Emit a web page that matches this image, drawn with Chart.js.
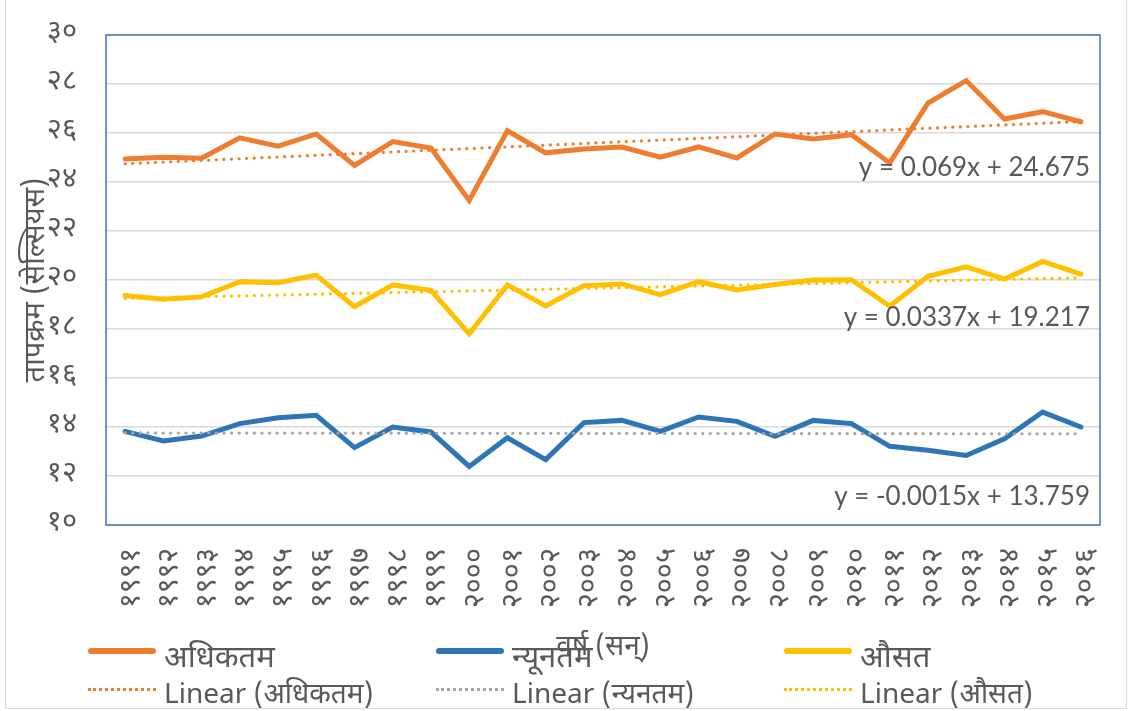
<!DOCTYPE html>
<html><head><meta charset="utf-8">
<script src="https://cdn.jsdelivr.net/npm/chart.js@4/dist/chart.umd.min.js"></script>
<style>
html,body{margin:0;padding:0;background:#fff;}
#wrap{position:relative;width:1131px;height:711px;overflow:hidden;background:#fff;}
#frame{position:absolute;left:5px;top:-2px;width:1122px;height:711px;border:1.5px solid #D9D9D9;box-sizing:border-box;pointer-events:none;}
#c{position:absolute;left:0;top:0;}
.lg{position:absolute;color:#595959;white-space:nowrap;}
.sw{position:absolute;}
</style></head>
<body><div id="wrap"><canvas id="c" width="1131" height="711"></canvas><div id="legend"></div><div id="frame"></div></div>
<script>
const categories = ['१९९१','१९९२','१९९३','१९९४','१९९५','१९९६','१९९७','१९९८','१९९९','२०००','२००१','२००२','२००३','२००४','२००५','२००६','२००७','२००८','२००९','२०१०','२०११','२०१२','२०१३','२०१४','२०१५','२०१६'];
const maxTemp = [24.94,25.01,24.97,25.80,25.46,25.96,24.68,25.65,25.39,23.25,26.09,25.19,25.35,25.43,25.01,25.43,24.98,25.96,25.76,25.93,24.78,27.22,28.14,26.57,26.87,26.46];
const minTemp = [13.82,13.43,13.63,14.14,14.38,14.48,13.16,14.00,13.80,12.39,13.56,12.67,14.18,14.27,13.82,14.41,14.23,13.62,14.27,14.14,13.21,13.05,12.84,13.52,14.61,14.00];
const avgTemp = [19.37,19.21,19.31,19.93,19.89,20.20,18.91,19.80,19.58,17.80,19.80,18.94,19.77,19.84,19.40,19.93,19.59,19.82,20.00,20.01,18.93,20.15,20.54,20.04,20.76,20.24];
const trendSlopes = [0.069, -0.0015, 0.0337];
const trendIntercepts = [24.675, 13.759, 19.217];
const trendLabels = ['y = 0.069x + 24.675','y = -0.0015x + 13.759','y = 0.0337x + 19.217'];
const yTickLabels = ['१०','१२','१४','१६','१८','२०','२२','२४','२६','२८','३०'];
const seriesNames = ['अधिकतम','न्यूनतम','औसत'];
const trendNames = ['Linear (अधिकतम)','Linear (न्यनतम)','Linear (औसत)'];
const xTitle = 'वर्ष (सन्)';
const yTitle = 'तापक्रम (सेल्सियस)';

const colors = ['#ED7D31','#2E75B6','#FFC000'];
const trendColors = ['#ED7D31','#A5A5A5','#FFC000'];
const FAM = "'Noto Sans Devanagari','Noto Sans',sans-serif";
const LFAM = "Lato,'Noto Sans Devanagari','Noto Sans',sans-serif";

const seriesData = [maxTemp, minTemp, avgTemp];
const trendData = trendSlopes.map((s, k) => categories.map((_, i) => trendIntercepts[k] + s * (i + 1)));

const datasets = [];
seriesData.forEach((d, k) => datasets.push({label: seriesNames[k], data: d, borderColor: colors[k], backgroundColor: colors[k], borderWidth: 5, pointRadius: 0, borderCapStyle:'round', borderJoinStyle:'miter', order: 2}));
trendData.forEach((d, k) => datasets.push({label: trendNames[k], data: d, borderColor: trendColors[k], backgroundColor: trendColors[k], borderWidth: 3.2, borderDash:[0.1, 7.5], borderCapStyle:'round', pointRadius: 0, order: 1}));

const eqPlugin = {
  id: 'eq',
  beforeDatasetsDraw(chart) {
    const {ctx, chartArea: a} = chart;
    ctx.save();
    ctx.strokeStyle = '#4472C4'; ctx.lineWidth = 1.5;
    ctx.strokeRect(a.left, a.top, a.right - a.left, a.bottom - a.top);
    ctx.restore();
  },
  afterDatasetsDraw(chart) {
    const {ctx, chartArea: a} = chart;
    const y = chart.scales.y;
    ctx.save();
    ctx.font = '26px ' + LFAM;
    ctx.fillStyle = '#595959';
    ctx.textAlign = 'right'; ctx.textBaseline = 'middle';
    const ys = [24.57, 11.14, 18.45];
    trendLabels.forEach((t, k) => ctx.fillText(t, a.right - 10, y.getPixelForValue(ys[k])));
    ctx.restore();
  }
};

const chart = new Chart(document.getElementById('c'), {
  type: 'line',
  data: {labels: categories, datasets},
  plugins: [eqPlugin],
  options: {
    responsive: false, animation: false,
    layout: {padding: {left: 0, right: 31, top: 35, bottom: 0}},
    plugins: {legend: {display: false}, tooltip: {enabled: false}},
    elements: {line: {tension: 0}},
    scales: {
      x: {
        offset: true,
        grid: {display: false, drawTicks: false, offset: true}, border: {display: false},
        ticks: {minRotation: 90, maxRotation: 90, autoSkip: false, padding: 23, labelOffset: 8, color: '#595959', font: {family: FAM, size: 29}},
        title: {display: true, text: xTitle, color: '#595959', font: {family: FAM, size: 28}, padding: {top: 0, bottom: 44}},
        afterFit(s) { s.height = 186; s.paddingLeft = 0; s.paddingRight = 0; }
      },
      y: {
        min: 10, max: 30,
        ticks: {stepSize: 2, padding: 29, color: '#595959', font: {family: FAM, size: 29}, callback: v => yTickLabels[Math.round((v - 10) / 2)]},
        grid: {color: '#D9D9D9', lineWidth: 1.5, drawTicks: false}, border: {display: false},
        title: {display: true, text: yTitle, color: '#595959', font: {family: FAM, size: 29}, padding: {top: 21, bottom: 0}},
        afterFit(s) { s.width = 106; s.paddingTop = 0; s.paddingBottom = 0; }
      }
    }
  }
});

// legend (HTML), built from the chart's datasets
const leg = document.getElementById('legend');
const colX = [88, 436, 784];
chart.data.datasets.forEach((ds, i) => {
  const col = i % 3, row = Math.floor(i / 3);
  const sw = document.createElement('div');
  sw.className = 'sw';
  if (row === 0) {
    sw.style.cssText = `left:${colX[col]}px;top:648px;width:68px;height:6px;border-radius:3px;background:${ds.borderColor}`;
  } else {
    sw.style.cssText = `left:${colX[col]}px;top:688px;width:68px;height:0;border-top:3px dotted ${ds.borderColor}`;
  }
  leg.appendChild(sw);
  const t = document.createElement('div');
  t.className = 'lg';
  t.textContent = ds.label;
  t.style.left = (colX[col] + 76) + 'px';
  t.style.top = (row === 0 ? 640 : 678) + 'px';
  t.style.fontSize = (row === 0 ? 31 : 28) + 'px';
  t.style.lineHeight = (row === 0 ? '40px' : '36px');
  t.style.fontFamily = FAM;
  leg.appendChild(t);
});
</script></body></html>
